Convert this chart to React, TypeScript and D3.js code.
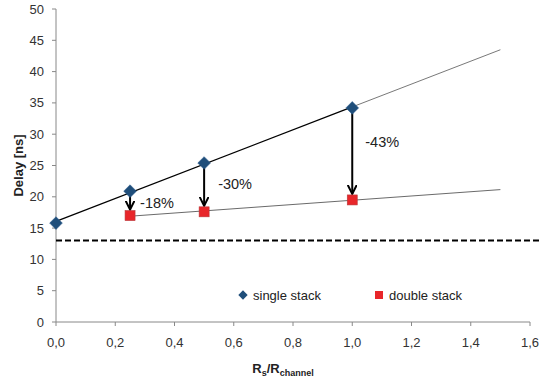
import React from "react";
import * as d3 from "d3";

const xTicks = [0, 0.2, 0.4, 0.6, 0.8, 1.0, 1.2, 1.4, 1.6];
const yTicks = [0, 5, 10, 15, 20, 25, 30, 35, 40, 45, 50];
const singleX = [0, 0.25, 0.5, 1.0];
const singleY = [15.8, 20.9, 25.4, 34.2];
const doubleX = [0.25, 0.5, 1.0];
const doubleY = [17.0, 17.6, 19.5];
const reductionLabels = ["-18%", "-30%", "-43%"];
const thresholdY = 13;
const trendEndX = 1.5;

function fit(xs: number[], ys: number[]) {
  const n = xs.length;
  const mx = d3.mean(xs)!;
  const my = d3.mean(ys)!;
  let num = 0, den = 0;
  for (let i = 0; i < n; i++) {
    num += (xs[i] - mx) * (ys[i] - my);
    den += (xs[i] - mx) ** 2;
  }
  const b = num / den;
  const a = my - b * mx;
  return (x: number) => a + b * x;
}

export default function App() {
  const W = 539, H = 382;
  const x = d3.scaleLinear().domain([0, 1.6]).range([56, 530]);
  const y = d3.scaleLinear().domain([0, 50]).range([322, 9]);
  const font = "Arial, 'Liberation Sans', sans-serif";
  const fs = fit(singleX, singleY);
  const fd = fit(doubleX, doubleY);
  const line = d3.line<[number, number]>().x(d => x(d[0])).y(d => y(d[1]));
  const lastX = singleX[singleX.length - 1];
  const labelOffsets = [[10, -8], [14, -23], [13, -53]];
  return (
    <svg width={W} height={H} style={{ position: "absolute", left: 0, top: 0 }} fontFamily={font}>
      <defs>
        <marker id="ah" viewBox="0 0 10 10" refX="9" refY="5" markerWidth="5" markerHeight="5" orient="auto" markerUnits="strokeWidth">
          <path d="M0,0.5 L9,5 L0,9.5" fill="none" stroke="#000" strokeWidth="2" />
        </marker>
      </defs>
      {/* axes */}
      <line x1={x(0)} x2={x(0)} y1={y(50)} y2={y(0)} stroke="#888" strokeWidth={1} />
      <line x1={x(0)} x2={x(1.6)} y1={y(0)} y2={y(0)} stroke="#888" strokeWidth={1} />
      {yTicks.map(t => (
        <g key={"y" + t}>
          <line x1={x(0) - 4} x2={x(0)} y1={y(t)} y2={y(t)} stroke="#888" />
          <text x={44} y={y(t)} dy="0.35em" textAnchor="end" fontSize={13} fill="#333">{t}</text>
        </g>
      ))}
      {xTicks.map(t => (
        <g key={"x" + t}>
          <line x1={x(t)} x2={x(t)} y1={y(0)} y2={y(0) + 4} stroke="#888" />
          <text x={x(t)} y={342} dy="0.35em" textAnchor="middle" fontSize={13} fill="#333">{t.toFixed(1).replace(".", ",")}</text>
        </g>
      ))}
      {/* threshold */}
      <line x1={x(0)} x2={W} y1={y(thresholdY)} y2={y(thresholdY)} stroke="#000" strokeWidth={2} strokeDasharray="6,3" />
      {/* trendlines */}
      <path d={line([[lastX, fs(lastX)], [trendEndX, fs(trendEndX)]])!} stroke="#555" strokeWidth={0.8} fill="none" />
      <path d={line([[0, fs(0)], [lastX, fs(lastX)]])!} stroke="#000" strokeWidth={1.3} fill="none" />
      <path d={line([[doubleX[0], fd(doubleX[0])], [trendEndX, fd(trendEndX)]])!} stroke="#444" strokeWidth={0.8} fill="none" />
      {/* arrows */}
      {doubleX.map((v, i) => {
        const si = singleX.indexOf(v);
        return (
          <line key={"a" + i} x1={x(v)} x2={x(v)} y1={y(singleY[si]) + 3} y2={y(doubleY[i]) - 6} stroke="#000" strokeWidth={2} markerEnd="url(#ah)" />
        );
      })}
      {doubleX.map((v, i) => (
        <text key={"l" + i} x={x(v) + labelOffsets[i][0]} y={y(doubleY[i]) + labelOffsets[i][1]} fontSize={14.5} fill="#222">{reductionLabels[i]}</text>
      ))}
      {/* markers */}
      {singleX.map((v, i) => (
        <rect key={"s" + i} x={-4.5} y={-4.5} width={9} height={9} fill="#1f4e7a" stroke="#2b5b8c" strokeWidth={0.5}
          transform={`translate(${x(v)},${y(singleY[i])}) rotate(45)`} />
      ))}
      {doubleX.map((v, i) => (
        <rect key={"d" + i} x={x(v) - 5} y={y(doubleY[i]) - 5} width={10} height={10} fill="#e8262a" stroke="#b8383a" strokeWidth={0.6} />
      ))}
      {/* legend */}
      <rect x={-3.3} y={-3.3} width={6.6} height={6.6} fill="#1f4e7a" transform="translate(243,295) rotate(45)" />
      <text x={253} y={295} dy="0.35em" fontSize={13} fill="#222">single stack</text>
      <rect x={375} y={291} width={8} height={8} fill="#e8262a" />
      <text x={389} y={295} dy="0.35em" fontSize={13} fill="#222">double stack</text>
      {/* axis titles */}
      <text x={283} y={368} dy="0.35em" textAnchor="middle" fontSize={13} fontWeight="bold" fill="#222">
        R<tspan fontSize={9} dy="3">s</tspan><tspan dy="-3">/R</tspan><tspan fontSize={9} dy="3">channel</tspan>
      </text>
      <text transform={`translate(18,${(y(0) + y(50)) / 2}) rotate(-90)`} textAnchor="middle" dy="0.35em" fontSize={13} fontWeight="bold" fill="#222">Delay [ns]</text>
    </svg>
  );
}
